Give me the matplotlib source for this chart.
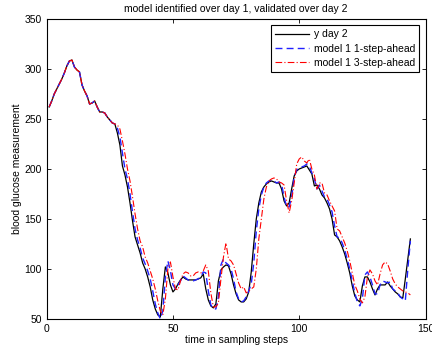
import numpy as np
import matplotlib
matplotlib.use('Agg')
import matplotlib.pyplot as plt

plt.rcParams['font.family'] = ['Liberation Sans', 'DejaVu Sans']

# 测量值 (day 2)
y_day2 = [262, 268, 275, 280, 285, 290, 296, 303, 308, 309,
          302, 299, 297, 284, 278, 273, 265, 266, 268, 262,
          257, 257, 256, 252, 249, 246, 245, 236, 224, 203,
          194, 182, 166, 148, 132, 124, 116, 106, 100, 92,
          82, 69, 60, 54, 52, 80, 102, 96, 84, 77,
          80, 85, 89, 92, 90, 89, 89, 89, 89, 90,
          91, 95, 80, 69, 63, 61, 65, 88, 99, 102,
          104, 103, 95, 84, 75, 69, 67, 67, 70, 77,
          97, 125, 150, 166, 177, 182, 185, 187, 188, 187,
          186, 186, 180, 168, 163, 166, 180, 193, 198, 200,
          201, 202, 203, 199, 195, 183, 184, 180, 174, 171,
          166, 160, 150, 134, 132, 128, 122, 115, 106, 96,
          83, 73, 69, 67, 83, 92, 92, 87, 80, 74,
          80, 84, 84, 84, 87, 83, 80, 77, 75, 72,
          71, 90, 110, 130]

# 1步预测
pred_1step = y_day2[:27] + [
    241, 232, 216,
    200, 190, 175, 157, 140, 129, 121, 111, 105, 98,
    90, 78, 65, 56, 50, 58, 92, 108, 98, 84,
    80, 84, 88, 93, 91, 89, 88, 88, 89, 90,
    92, 97, 96, 78, 64, 60, 60, 72, 104, 110,
    106, 104, 100, 90, 77, 70, 67, 68, 72, 78,
    85, 106, 138, 160, 174, 182, 186, 188, 189, 188,
    186, 187, 185, 172, 162, 162, 172, 192, 199, 201,
    202, 203, 205, 203, 196, 190, 180, 184, 178, 172,
    170, 164, 157, 143, 132, 131, 126, 119, 110, 100,
    88, 76, 67, 63, 70, 94, 97, 92, 84, 75,
    75, 84, 88, 87, 86, 87, 80, 78, 76, 72,
    70, 68, 100, 128]

# 3步预测
pred_3step = y_day2[:27] + [
    244, 240, 228,
    215, 200, 188, 172, 155, 140, 128, 122, 112, 106,
    98, 90, 80, 68, 58, 54, 70, 100, 107, 92,
    80, 79, 88, 95, 97, 96, 93, 93, 96, 97,
    96, 98, 104, 98, 76, 62, 62, 66, 90, 112,
    126, 110, 108, 104, 95, 86, 80, 82, 76, 78,
    80, 82, 100, 130, 150, 170, 182, 188, 190, 191,
    190, 187, 186, 184, 168, 156, 168, 186, 205, 210,
    212, 208, 206, 210, 200, 194, 180, 186, 186, 176,
    174, 168, 163, 158, 140, 138, 132, 126, 118, 108,
    96, 84, 78, 70, 66, 72, 92, 99, 95, 88,
    84, 95, 104, 107, 105, 98, 90, 85, 82, 80,
    78, 77, 76, 74]

t = np.arange(1, len(y_day2) + 1)

fig = plt.figure(figsize=(4.32, 3.52), dpi=100)
ax = fig.add_axes([0.108, 0.094, 0.877, 0.852])

ax.plot(t, y_day2, color='black', lw=0.9, label='y day 2')
ax.plot(t, pred_1step, color='#2020ff', lw=1.0, ls=(0, (5, 3)), label='model 1 1-step-ahead')
ax.plot(t, pred_3step, color='red', lw=0.8, ls=(0, (6, 2, 1, 2)), label='model 1 3-step-ahead')

ax.set_xlim(0, 150)
ax.set_ylim(50, 350)
ax.set_xticks([0, 50, 100, 150])
ax.set_yticks([50, 100, 150, 200, 250, 300, 350])
ax.tick_params(direction='in', top=True, right=True, labelsize=7.5, length=3, width=0.6)
for s in ax.spines.values():
    s.set_linewidth(0.8)

ax.set_title('model identified over day 1, validated over day 2', fontsize=7.5, pad=5)
ax.set_xlabel('time in sampling steps', fontsize=7.5, labelpad=1)
ax.set_ylabel('blood glucose measurement', fontsize=7.5, labelpad=2)

leg = ax.legend(loc='upper right', fontsize=7.5, fancybox=False, framealpha=1,
                edgecolor='black', borderpad=0.4, labelspacing=0.4,
                handlelength=3.2, handletextpad=0.5, borderaxespad=0.6)
leg.get_frame().set_linewidth(0.8)

plt.savefig('out.png', dpi=100)
